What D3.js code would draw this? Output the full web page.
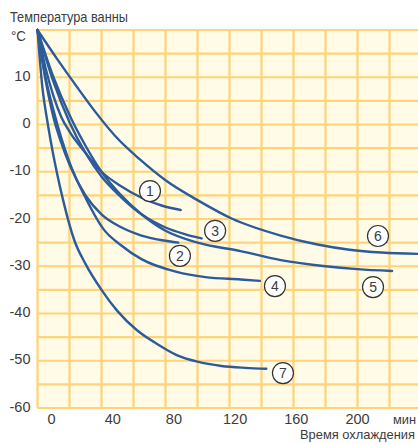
<!DOCTYPE html>
<html>
<head>
<meta charset="utf-8">
<script src="https://cdn.jsdelivr.net/npm/d3@7"></script>
<style>
body { margin: 0; background: #fff; }
svg text { font-family: "Liberation Sans Narrow", "Arial Narrow", "Liberation Sans", sans-serif; fill: #3c3c3c; }
</style>
</head>
<body>
<svg width="418" height="444"></svg>
<script>
// cooling curves: [minutes, degC]
var curve1 = [[0,20],[5,12],[10,6],[15,1.5],[20,-1.5],[30,-6],[40,-10],[52,-13],[65,-15.5],[78,-17.2],[89.5,-18.1]];
var curve2 = [[0,20],[5,9.5],[10,1.5],[15,-4],[20,-8.5],[30,-15],[40,-19],[52,-21.7],[65,-23.5],[78,-24.5],[88,-25]];
var curve3 = [[0,20],[10,9],[20,0.5],[30,-6],[40,-11],[52,-15.3],[65,-19],[80,-21.8],[92,-23.2],[102.6,-24.1]];
var curve4 = [[0,20],[5,10],[10,3],[15,-3],[20,-8],[30,-15.5],[41.6,-22.3],[52,-25.5],[65,-28.5],[87,-31.2],[105,-32.3],[127,-32.8],[139,-33.1]];
var curve5 = [[0,20],[10,10],[20,2],[30,-4.5],[40,-10],[52,-14.9],[65,-19],[80,-22.5],[100,-25],[127,-26.8],[152,-28.7],[180,-30],[200,-30.6],[221.6,-31]];
var curve6 = [[0,20],[12,14],[25,7.8],[37,2.3],[49,-2.6],[64,-7.4],[80,-11.8],[100,-16],[122,-20],[152,-23.5],[175,-25.4],[195,-26.5],[215,-27.1],[240,-27.4]];
var curve7 = [[0,20],[3,8],[6,1],[8,-3],[12,-10],[16,-16],[23,-24.5],[30,-29.5],[40,-35],[50,-39.5],[62,-43.5],[75,-46.5],[87,-48.8],[100,-50.2],[115,-51.1],[130,-51.5],[143,-51.7]];

var curveNames = ["1", "2", "3", "4", "5", "6", "7"];
var curves = [curve1, curve2, curve3, curve4, curve5, curve6, curve7];
// where each number badge sits, [minutes, degC]
var labelAt = [[70.3,-14.1],[89,-27.8],[111,-22.5],[148.4,-34.2],[209.7,-34.4],[212.8,-23.6],[153.4,-52.6]];

var xTicks = [0, 40, 80, 120, 160, 200];
var yTicks = [-60, -50, -40, -30, -20, -10, 0, 10];
var yTitle = "Температура ванны";
var yUnit = "°C";
var xUnit = "мин";
var xTitle = "Время охлаждения";

var svg = d3.select("svg");
var margin = { top: 30, left: 37.5, bottom: 36 };
var height = 444 - margin.top - margin.bottom;

var xScale = d3.scaleLinear()
	.domain([0, 240])
	.range([margin.left, margin.left + 384]);

// tick labels in the print sit a little off the grid
var xLabelScale = d3.scaleLinear()
	.domain([0, 200])
	.range([51, 357]);

var yScale = d3.scaleLinear()
	.domain([-60, 20])
	.range([margin.top + height, margin.top]);

// plot background
svg.append("rect")
	.attr("x", xScale(0))
	.attr("y", yScale(20))
	.attr("width", xScale(240) - xScale(0))
	.attr("height", yScale(-60) - yScale(20))
	.attr("fill", "#fffbe6");

var grid = svg.append("g")
	.attr("stroke", "#ffd376")
	.attr("stroke-width", 2.2);

grid.selectAll("line.v")
	.data(d3.range(0, 241, 20))
	.enter().append("line")
		.attr("class", "v")
		.attr("x1", function (d) { return xScale(d); })
		.attr("x2", function (d) { return xScale(d); })
		.attr("y1", yScale(20))
		.attr("y2", yScale(-60));

grid.selectAll("line.h")
	.data(d3.range(-60, 21, 5))
	.enter().append("line")
		.attr("class", "h")
		.attr("x1", xScale(0))
		.attr("x2", xScale(240))
		.attr("y1", function (d) { return yScale(d); })
		.attr("y2", function (d) { return yScale(d); });

// axes (labels only), plain hyphen for negatives
var yAxis = d3.axisLeft(yScale)
	.tickValues(yTicks)
	.tickFormat(function (d) { return String(d); })
	.tickSize(0)
	.tickPadding(7);

svg.append("g")
	.attr("class", "y axis")
	.attr("transform", "translate(" + xScale(0) + ",0)")
	.call(yAxis)
	.call(function (g) { g.select(".domain").remove(); })
	.selectAll("text")
		.attr("dy", "0.22em")
		.style("font-size", "14.5px");

var xAxis = d3.axisBottom(xLabelScale)
	.tickValues(xTicks)
	.tickSize(0)
	.tickPadding(6);

svg.append("g")
	.attr("class", "x axis")
	.attr("transform", "translate(0," + yScale(-60) + ")")
	.call(xAxis)
	.call(function (g) { g.select(".domain").remove(); })
	.selectAll("text")
		.style("font-size", "14.5px");

svg.append("text")
	.attr("x", 10)
	.attr("y", 22)
	.attr("textLength", 118)
	.attr("lengthAdjust", "spacingAndGlyphs")
	.style("font-size", "15px")
	.text(yTitle);

svg.append("text")
	.attr("x", 11)
	.attr("y", 41)
	.attr("textLength", 15)
	.attr("lengthAdjust", "spacingAndGlyphs")
	.style("font-size", "15px")
	.text(yUnit);

svg.append("text")
	.attr("x", 393)
	.attr("y", 424)
	.attr("textLength", 23)
	.attr("lengthAdjust", "spacingAndGlyphs")
	.style("font-size", "13.5px")
	.text(xUnit);

svg.append("text")
	.attr("x", 300)
	.attr("y", 439)
	.attr("textLength", 115)
	.attr("lengthAdjust", "spacingAndGlyphs")
	.style("font-size", "13px")
	.text(xTitle);

// curves
var line = d3.line()
	.x(function (d) { return xScale(d[0]); })
	.y(function (d) { return yScale(d[1]); })
	.curve(d3.curveMonotoneX);

svg.append("g")
	.selectAll("path")
	.data(curves)
	.enter().append("path")
		.attr("fill", "none")
		.attr("stroke", "#2b5b9b")
		.attr("stroke-width", 2.4)
		.attr("stroke-linecap", "round")
		.attr("d", line);

// number badges
var badge = svg.append("g")
	.selectAll("g")
	.data(curveNames)
	.enter().append("g")
		.attr("transform", function (d, i) {
			return "translate(" + xScale(labelAt[i][0]) + "," + yScale(labelAt[i][1]) + ")";
		});

badge.append("circle")
	.attr("r", 10.5)
	.attr("fill", "#fff")
	.attr("stroke", "#333")
	.attr("stroke-width", 1.2);

badge.append("text")
	.attr("text-anchor", "middle")
	.attr("dy", "0.36em")
	.style("font-size", "14px")
	.text(function (d) { return d; });
</script>
</body>
</html>
